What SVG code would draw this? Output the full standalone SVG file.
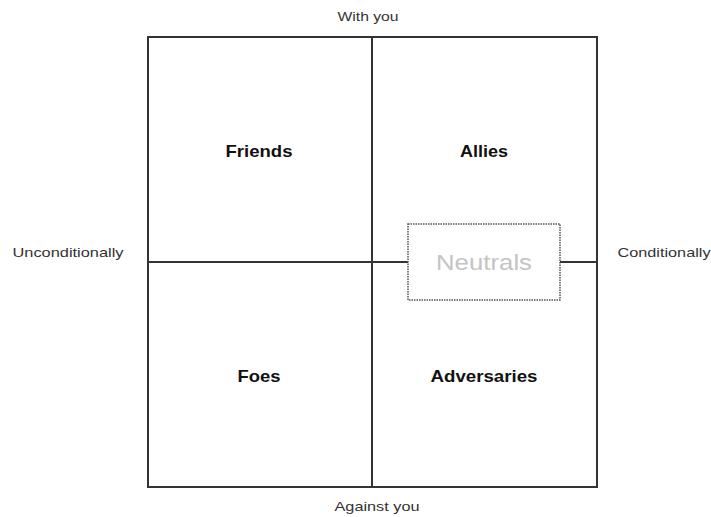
<svg xmlns="http://www.w3.org/2000/svg" width="711" height="517" viewBox="0 0 711 517">
<style>
.ln{stroke:#333;stroke-width:2;fill:none}
.ax{font-family:"Liberation Sans",Arial,sans-serif;font-size:13.5px;fill:#333;text-anchor:middle}
.q{font-family:"Liberation Sans",Arial,sans-serif;font-size:17px;font-weight:bold;fill:#111;text-anchor:middle}
.nt{font-family:"Liberation Sans",Arial,sans-serif;font-size:22px;fill:#c4c4c4;text-anchor:middle}
</style>
<rect width="711" height="517" fill="#fff"/>
<g id="connectors">
<rect class="ln" x="148" y="37" width="449" height="450"/>
<line class="ln" x1="372" y1="37" x2="372" y2="487"/>
<line class="ln" x1="148" y1="262" x2="597" y2="262"/>
</g>
<g id="with-you"><text class="ax" x="368" y="21" textLength="61" lengthAdjust="spacingAndGlyphs">With you</text></g>
<g id="against-you"><text class="ax" x="377" y="511" textLength="85" lengthAdjust="spacingAndGlyphs">Against you</text></g>
<g id="unconditionally"><text class="ax" x="68" y="257" textLength="111" lengthAdjust="spacingAndGlyphs">Unconditionally</text></g>
<g id="conditionally"><text class="ax" x="664" y="257" textLength="93" lengthAdjust="spacingAndGlyphs">Conditionally</text></g>
<g id="friends"><text class="q" x="259" y="157" textLength="67" lengthAdjust="spacingAndGlyphs">Friends</text></g>
<g id="allies"><text class="q" x="484" y="157" textLength="48" lengthAdjust="spacingAndGlyphs">Allies</text></g>
<g id="foes"><text class="q" x="259" y="382" textLength="43" lengthAdjust="spacingAndGlyphs">Foes</text></g>
<g id="adversaries"><text class="q" x="484" y="382" textLength="107" lengthAdjust="spacingAndGlyphs">Adversaries</text></g>
<g id="neutrals">
<rect x="408" y="224" width="152" height="76" fill="#fff" stroke="#555" stroke-width="1.5" stroke-dasharray="1.5,1"/>
<text class="nt" x="484" y="270" textLength="96" lengthAdjust="spacingAndGlyphs">Neutrals</text>
</g>
</svg>
